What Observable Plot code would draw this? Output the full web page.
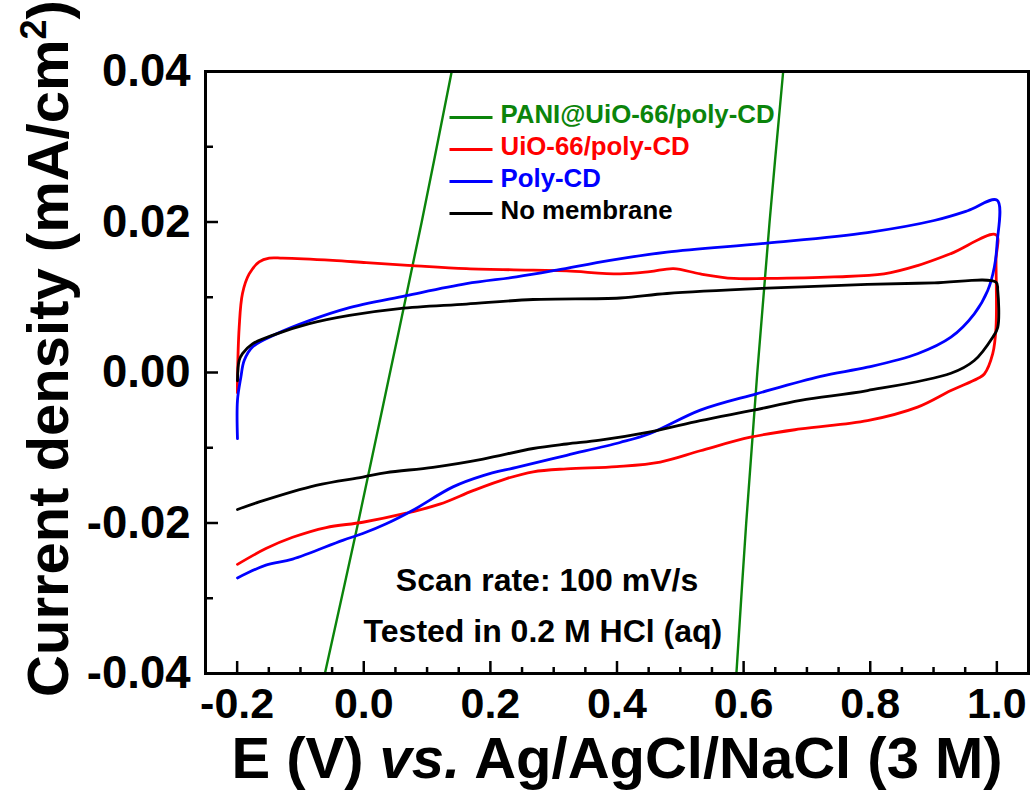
<!DOCTYPE html>
<html><head><meta charset="utf-8">
<script src="https://cdn.jsdelivr.net/npm/d3@7"></script>
<script src="https://cdn.jsdelivr.net/npm/@observablehq/plot@0.6"></script>
<style>body{margin:0;background:#fff;} svg{display:block}</style>
</head><body><div id="chart"></div>
<script>
// ---------- data ----------
const seriesNames = ["PANI@UiO-66/poly-CD", "UiO-66/poly-CD", "Poly-CD", "No membrane"];
const seriesColors = ["#0b840b", "#ff0000", "#0000ff", "#000000"];

const xTicks = [-0.2, 0.0, 0.2, 0.4, 0.6, 0.8, 1.0];
const xMinor = [-0.15, -0.1, -0.05, 0.05, 0.1, 0.15, 0.25, 0.3, 0.35, 0.45, 0.5, 0.55, 0.65, 0.7, 0.75, 0.85, 0.9, 0.95];
const yTicks = [-0.04, -0.02, 0.00, 0.02, 0.04];
const yMinor = [-0.03, -0.01, 0.01, 0.03];

// PANI@UiO-66/poly-CD (only two steep branches are inside the window)
const greenUpE = [-0.0614, -0.0090, 0.0415, 0.0915, 0.1389];
const greenUpJ = [-0.040, -0.020, 0.000, 0.020, 0.040];
const greenDnE = [0.6625, 0.6410, 0.6216, 0.6041, 0.5886];
const greenDnJ = [0.040, 0.020, 0.000, -0.020, -0.040];

// UiO-66/poly-CD
const redE = [-0.1995,-0.1995,-0.1968,-0.1916,-0.1810,-0.1652,-0.1494,-0.1283,-0.0491,0.0038,0.0776,0.1622,0.2676,0.3205,0.4049,0.4520,0.4893,0.5316,0.5843,0.6372,0.7427,0.8219,0.8747,0.9275,0.9987,
  0.9987,0.9987,0.9935,0.9802,
  0.9697,0.9275,0.8747,0.7956,0.6899,0.6108,0.5316,0.4683,0.3997,0.3205,0.2676,0.2255,0.1726,0.1199,0.0671,-0.0016,-0.0595,-0.1124,-0.1546,-0.1995];
const redJ = [-0.0027,-0.0011,0.0060,0.0105,0.0131,0.0147,0.0152,0.0152,0.0149,0.0146,0.0142,0.0138,0.0136,0.0135,0.0131,0.0134,0.0138,0.0131,0.0125,0.0125,0.0127,0.0131,0.0142,0.0158,0.0183,
  0.0149,0.0060,0.0025,-0.0002,
  -0.0008,-0.0024,-0.0046,-0.0064,-0.0075,-0.0086,-0.0104,-0.0119,-0.0125,-0.0128,-0.0132,-0.0141,-0.0157,-0.0175,-0.0187,-0.0199,-0.0206,-0.0219,-0.0234,-0.0255];

// Poly-CD
const blueE = [-0.1995,-0.1995,-0.1941,-0.1889,-0.1758,-0.1387,-0.0860,-0.0279,0.0671,0.1622,0.2413,0.3047,0.3890,0.4789,0.6372,0.7956,0.9010,0.9539,1.0003,
  1.0003,0.9960,0.9856,0.9644,0.9275,0.8747,0.7956,0.7216,0.6214,0.5316,0.4524,0.4049,0.3205,0.2413,0.1884,0.1409,0.0776,0.0355,-0.0016,-0.0333,-0.1124,-0.1546,-0.1995];
const blueJ = [-0.0088,-0.0037,-0.0006,0.0016,0.0034,0.0051,0.0069,0.0085,0.0102,0.0118,0.0127,0.0136,0.0149,0.0160,0.0172,0.0186,0.0202,0.0215,0.0229,
  0.0171,0.0140,0.0109,0.0078,0.0047,0.0025,0.0007,-0.0005,-0.0028,-0.0050,-0.0081,-0.0093,-0.0110,-0.0126,-0.0137,-0.0152,-0.0183,-0.0201,-0.0214,-0.0223,-0.0248,-0.0256,-0.0273];

// No membrane
const blackE = [-0.1995,-0.1968,-0.1916,-0.1758,-0.1387,-0.0860,-0.0226,0.0565,0.1622,0.2676,0.4049,0.4789,0.6372,0.7956,0.9010,0.9987,
  1.0014,1.0014,0.9935,0.9644,0.9275,0.7956,0.6899,0.6160,0.5316,0.4524,0.3732,0.3205,0.2676,0.1884,0.1093,0.0355,-0.0016,-0.0754,-0.1652,-0.1995];
const blackJ = [-0.0011,0.0016,0.0025,0.0038,0.0051,0.0065,0.0076,0.0085,0.0091,0.0097,0.0099,0.0105,0.0112,0.0117,0.0119,0.0120,
  0.0109,0.0060,0.0047,0.0016,-0.0001,-0.0024,-0.0037,-0.0050,-0.0064,-0.0079,-0.0090,-0.0095,-0.0101,-0.0115,-0.0126,-0.0133,-0.0139,-0.0150,-0.0172,-0.0182];

const annotations = ["Scan rate: 100 mV/s", "Tested in 0.2 M HCl (aq)"];
const xTitle = "E (V) vs. Ag/AgCl/NaCl (3 M)";
const yTitle = "Current density (mA/cm\u00b2)";

// ---------- layout ----------
const W = 1035, H = 798, mL = 205, mR = 7, mT = 71, mB = 125;
const xDomain = [-0.25, 1.05], yDomain = [-0.04, 0.04];
const xPx = px => xDomain[0] + (px - mL) / (W - mL - mR) * (xDomain[1] - xDomain[0]);
const yPx = py => yDomain[1] - (py - mT) / (H - mT - mB) * (yDomain[1] - yDomain[0]);

const pts = (E, J) => E.map((e, i) => ({E: e, j: J[i]}));
const curves = [
  {data: pts(greenUpE, greenUpJ), color: seriesColors[0], w: 2.4},
  {data: pts(greenDnE, greenDnJ), color: seriesColors[0], w: 2.4},
  {data: pts(redE, redJ), color: seriesColors[1], w: 2.8},
  {data: pts(blueE, blueJ), color: seriesColors[2], w: 2.8},
  {data: pts(blackE, blackJ), color: seriesColors[3], w: 2.8}
];

const legendRows = seriesNames.map((name, i) => ({name, color: seriesColors[i], i}));
const legRowY = i => 117 + 32 * i;

const chart = Plot.plot({
  width: W, height: H,
  marginLeft: mL, marginRight: mR, marginTop: mT, marginBottom: mB,
  x: {domain: xDomain, label: null},
  y: {domain: yDomain, label: null},
  style: {fontFamily: "'Liberation Sans', Arial, sans-serif", fontWeight: "bold", background: "#fff", color: "#000"},
  marks: [
    ...curves.map(c => Plot.line(c.data, {x: "E", y: "j", stroke: c.color, strokeWidth: c.w, curve: "catmull-rom", clip: true})),
    Plot.frame({stroke: "#000", strokeWidth: 3}),
    // ticks (inward)
    Plot.axisX(xTicks, {tickSize: -12, tickFormat: () => "", strokeWidth: 2.5}),
    Plot.axisX(xMinor, {tickSize: -6, tickFormat: () => "", strokeWidth: 2.5}),
    Plot.axisY(yTicks, {tickSize: -13, tickFormat: () => "", strokeWidth: 2.5}),
    Plot.axisY(yMinor, {tickSize: -8, tickFormat: () => "", strokeWidth: 2.5}),
    // tick labels
    Plot.axisX(xTicks, {tickSize: 0, tickPadding: 14, tickFormat: d => d.toFixed(1), fontSize: 43}),
    Plot.axisY(yTicks, {tickSize: 0, tickPadding: 15, tickFormat: d => d.toFixed(2), fontSize: 45.5}),
    // axis titles
    Plot.text([xTitle], {frameAnchor: "bottom", dy: 104, fontSize: 58, fill: "#000"}),
    Plot.text([yTitle], {frameAnchor: "left", textAnchor: "middle", rotate: -90, dx: -156, dy: -24, fontSize: 58, fill: "#000"}),
    // legend
    Plot.link(legendRows, {x1: xPx(449), x2: xPx(492), y1: d => yPx(legRowY(d.i)), y2: d => yPx(legRowY(d.i)), stroke: d => d.color, strokeWidth: 2.8}),
    Plot.text(legendRows, {x: xPx(500), y: d => yPx(legRowY(d.i)), dy: -3, text: "name", fill: d => d.color, textAnchor: "start", fontSize: 25.8}),
    // annotations
    Plot.text([annotations[0]], {x: xPx(546.5), y: yPx(580), fontSize: 32, fill: "#000"}),
    Plot.text([annotations[1]], {x: xPx(542.4), y: yPx(631), fontSize: 32, fill: "#000"})
  ]
});
document.getElementById("chart").appendChild(chart);

// rich text: italic "vs." and superscript 2
const NS = "http://www.w3.org/2000/svg";
chart.querySelectorAll("text").forEach(t => {
  if (t.textContent === xTitle) {
    t.textContent = "";
    t.setAttribute("xml:space", "preserve");
    [["E (V) ", null], ["vs.", "italic"], [" Ag/AgCl/NaCl (3 M)", null]].forEach(([s, st]) => {
      const ts = document.createElementNS(NS, "tspan");
      ts.textContent = s;
      if (st) ts.setAttribute("font-style", st);
      t.appendChild(ts);
    });
  } else if (t.textContent === yTitle) {
    t.textContent = "";
    const a = document.createElementNS(NS, "tspan"); a.textContent = "Current density (mA/cm";
    const b = document.createElementNS(NS, "tspan"); b.textContent = "2"; b.setAttribute("font-size", "36"); b.setAttribute("dy", "-22");
    const c = document.createElementNS(NS, "tspan"); c.textContent = ")"; c.setAttribute("dy", "22");
    t.append(a, b, c);
  }
});
</script>
</body></html>
